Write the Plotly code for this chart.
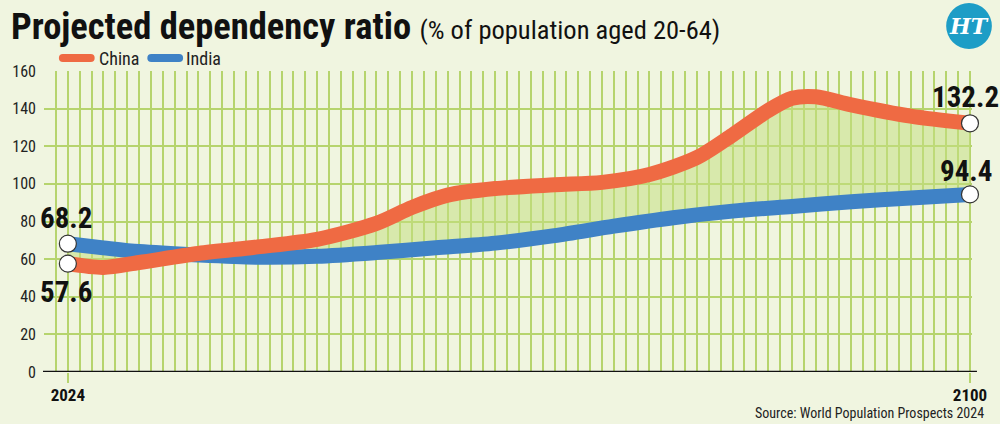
import plotly.graph_objects as go

# ---- data ----
china_years = [2024, 2027, 2030, 2035, 2040, 2045, 2050, 2053, 2056, 2060, 2065, 2069,
               2073, 2077, 2080, 2083, 2085, 2087, 2090, 2095, 2100]
china_vals = [57.6, 55.6, 58.2, 63.0, 66.5, 70.5, 79.0, 87.5, 94.0, 97.5, 99.5, 100.8,
              105.0, 114.0, 126.0, 139.0, 145.5, 146.3, 142.0, 136.0, 132.2]
india_years = [2024, 2027, 2030, 2035, 2040, 2045, 2050, 2055, 2060, 2065, 2070, 2075,
               2080, 2085, 2090, 2095, 2100]
india_vals = [68.2, 66.0, 64.0, 62.2, 61.0, 61.5, 63.5, 66.0, 68.5, 72.5, 77.5, 82.0,
              85.5, 88.0, 90.5, 92.5, 94.4]
y_ticks = [0, 20, 40, 60, 80, 100, 120, 140, 160]
x_ticks = [2024, 2100]

ORANGE = "#ef6a43"
BLUE = "#3f82c6"
GRID = "#b6d46e"
FILL = "rgba(196,222,130,0.55)"
BG = "#f0f5e0"
NARROW = "Liberation Sans Narrow, Roboto Condensed, DejaVu Sans Condensed, Arial Narrow, sans-serif"

W, H = 1000, 424
L, R, T, B = 38, 972, 71, 372
PX_PER_YEAR = 11.947


def yr(px):
    return 2024 + (px - 62) / PX_PER_YEAR


def fx(px):
    return (px - L) / (R - L)


def fy(py):
    return (B - py) / (B - T)


fig = go.Figure()

# fill between lines
fig.add_trace(go.Scatter(x=india_years, y=india_vals, mode="lines",
                         line=dict(width=0, shape="spline", smoothing=0.8, color=BLUE),
                         hoverinfo="skip", showlegend=False))
fig.add_trace(go.Scatter(x=china_years, y=china_vals, mode="lines", fill="tonexty",
                         fillcolor=FILL,
                         line=dict(width=0, shape="spline", smoothing=0.8, color=ORANGE),
                         hoverinfo="skip", showlegend=False))
# lines
fig.add_trace(go.Scatter(x=india_years, y=india_vals, mode="lines", name="India",
                         line=dict(width=15, shape="spline", smoothing=0.8, color=BLUE),
                         showlegend=False))
fig.add_trace(go.Scatter(x=china_years, y=china_vals, mode="lines", name="China",
                         line=dict(width=15, shape="spline", smoothing=0.8, color=ORANGE),
                         showlegend=False))
# endpoint markers
fig.add_trace(go.Scatter(
    x=[india_years[0], china_years[0], india_years[-1], china_years[-1]],
    y=[india_vals[0], china_vals[0], india_vals[-1], china_vals[-1]],
    mode="markers", cliponaxis=False, showlegend=False,
    marker=dict(size=17, color="white", line=dict(color="#333333", width=1.2))))

annotations = []
# value labels
for xv, yv, xs, ys in [(india_years[0], india_vals[0], -2, 26),
                       (china_years[0], china_vals[0], -2, -28),
                       (china_years[-1], china_vals[-1], -4, 26),
                       (india_years[-1], india_vals[-1], -4, 23)]:
    annotations.append(dict(x=xv, y=yv, xref="x", yref="y", text=f"<b>{yv}</b>",
                            showarrow=False, xanchor="center", yanchor="middle",
                            xshift=xs, yshift=ys,
                            font=dict(family=NARROW, size=29, color="#111111")))

# title
annotations.append(dict(
    x=fx(3), y=fy(26), xref="paper", yref="paper", xanchor="left", yanchor="middle",
    showarrow=False,
    text="<b>Projected dependency ratio</b> <span style='font-size:26.5px'>(% of population aged 20-64)</span>",
    font=dict(family=NARROW, size=36.5, color="#111111")))

# legend
legend_items = [("China", ORANGE, 53, 89, 91), ("India", BLUE, 142, 178, 179)]
shapes = []
for name, col, x0, x1, tx in legend_items:
    shapes.append(dict(type="line", xref="paper", yref="paper",
                       x0=fx(x0 + 4), x1=fx(x1 - 4), y0=fy(58), y1=fy(58),
                       line=dict(color=col, width=8)))
    for cx in (x0 + 4, x1 - 4):
        shapes.append(dict(type="circle", xref="paper", yref="paper",
                           x0=fx(cx - 4), x1=fx(cx + 4), y0=fy(62), y1=fy(54),
                           line=dict(width=0), fillcolor=col))
    annotations.append(dict(x=fx(tx), y=fy(58), xref="paper", yref="paper",
                            xanchor="left", yanchor="middle", showarrow=False,
                            text=name, font=dict(family=NARROW, size=18, color="#222222")))

# x axis black line
shapes.append(dict(type="line", xref="paper", yref="y", x0=fx(37), x1=fx(977), y0=0, y1=0,
                   line=dict(color="#111111", width=2.5), layer="above"))

# HT logo
shapes.append(dict(type="circle", xref="paper", yref="paper",
                   x0=fx(946), x1=fx(992), y0=fy(49), y1=fy(3),
                   fillcolor="#1d9dc6", line=dict(width=0)))
annotations.append(dict(x=fx(969), y=fy(26), xref="paper", yref="paper",
                        xanchor="center", yanchor="middle", showarrow=False,
                        text="<b><i>HT</i></b>",
                        font=dict(family="DejaVu Serif, serif", size=22, color="white")))

# source
annotations.append(dict(x=fx(986), y=fy(413), xref="paper", yref="paper",
                        xanchor="right", yanchor="middle", showarrow=False,
                        text="Source: World Population Prospects 2024",
                        font=dict(family=NARROW, size=14, color="#222222")))

fig.update_layout(
    width=W, height=H, margin=dict(l=L, r=W - R, t=T, b=H - B),
    paper_bgcolor=BG, plot_bgcolor=BG, showlegend=False,
    annotations=annotations, shapes=shapes,
    xaxis=dict(range=[yr(L), yr(R)], tickvals=x_ticks,
               ticktext=[f"<b>{v}</b>" for v in x_ticks],
               showgrid=True, gridcolor=GRID, gridwidth=1.5,
               ticks="outside", ticklen=10, tickcolor=GRID, tickwidth=1.5,
               ticklabelstandoff=-2,
               tickfont=dict(family=NARROW, size=17, color="#111111"),
               minor=dict(dtick=1, tick0=2024, showgrid=True, gridcolor=GRID, gridwidth=1.5),
               zeroline=False, showline=False, fixedrange=True),
    yaxis=dict(range=[0, 160], tickvals=y_ticks, showgrid=True, gridcolor=GRID, gridwidth=2,
               ticks="", ticklabelstandoff=7,
               tickfont=dict(family=NARROW, size=16, color="#222222"),
               zeroline=False, showline=False, fixedrange=True),
)

fig.write_html("out.html")
